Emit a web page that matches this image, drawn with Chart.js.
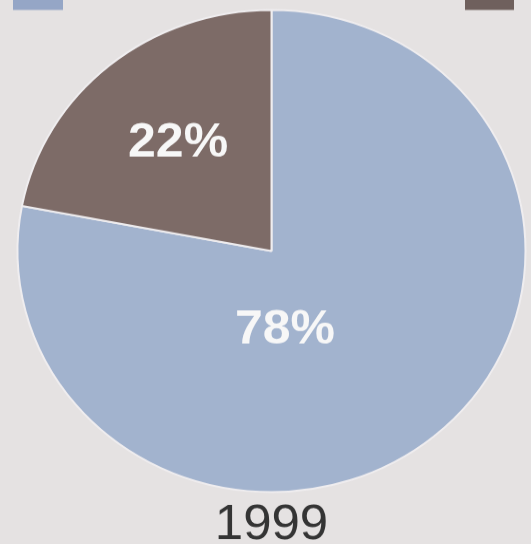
<!DOCTYPE html>
<html>
<head>
<meta charset="utf-8">
<script src="https://cdn.jsdelivr.net/npm/chart.js@4.4.1/dist/chart.umd.min.js"></script>
<style>
  html, body { margin: 0; padding: 0; background: #e5e2e2; overflow: hidden; width: 531px; height: 544px; }
  #wrap { width: 531px; height: 544px; overflow: hidden; position: relative; }
  #pie { position: absolute; left: 0; top: 0; transform: scaleY(0.949); transform-origin: 0 0; }
</style>
</head>
<body>
<div id="wrap"><canvas id="pie" width="531" height="580"></canvas></div>
<script>
// Share of respondents, 1999
const categories = ['Group A', 'Group B'];
const shares = [78, 22];
const sliceColors = ['#a2b3ce', '#7d6b67'];
const titleText = '1999';

// Percentage labels inside the slices; placement given as fraction of radius
// plus an angular shift (degrees) from the slice's mid-angle.
const labelPlacement = {
  plugin: {
    radiusFraction: [0.334, 0.577],
    angleShift: [30.5, 0]
  }
};

const sliceLabels = {
  id: 'sliceLabels',
  afterDatasetsDraw(chart, args, opts) {
    const ctx = chart.ctx;
    const meta = chart.getDatasetMeta(0);
    ctx.save();
    ctx.fillStyle = opts.color;
    ctx.font = opts.font;
    ctx.textAlign = 'center';
    ctx.textBaseline = 'middle';
    meta.data.forEach((arc, i) => {
      const p = arc.getProps(['x', 'y', 'startAngle', 'endAngle', 'outerRadius'], true);
      const mid = (p.startAngle + p.endAngle) / 2 + opts.angleShift[i] * Math.PI / 180;
      const d = p.outerRadius * opts.radiusFraction[i];
      ctx.fillText(shares[i] + '%', p.x + Math.cos(mid) * d, p.y + Math.sin(mid) * d);
    });
    ctx.restore();
  }
};

// Colour keys along the top edge (their captions fall outside the frame)
const topKeys = {
  id: 'topKeys',
  afterDraw(chart, args, opts) {
    const ctx = chart.ctx;
    ctx.save();
    opts.boxes.forEach((b, i) => {
      ctx.fillStyle = opts.colors[i];
      ctx.fillRect(b[0], -20, b[1], 20 + opts.bottom);
    });
    ctx.restore();
  }
};

new Chart(document.getElementById('pie'), {
  type: 'pie',
  data: {
    labels: categories,
    datasets: [{
      data: shares,
      backgroundColor: sliceColors,
      borderColor: '#efedef',
      borderWidth: 2
    }]
  },
  options: {
    responsive: false,
    animation: false,
    layout: { padding: { left: 16, right: 4, top: 9.5, bottom: 0 } },
    plugins: {
      legend: { display: false },
      tooltip: { enabled: false },
      title: {
        display: true,
        position: 'bottom',
        text: titleText,
        color: '#343434',
        font: { family: 'Liberation Sans, Arial, sans-serif', size: 51, weight: 'normal', lineHeight: 1 },
        padding: { top: 8.5, bottom: 1 }
      },
      sliceLabels: Object.assign({
        color: '#f7f7f7',
        font: 'bold 50px "Liberation Sans", Arial, sans-serif'
      }, labelPlacement.plugin),
      topKeys: {
        boxes: [[13, 50], [465, 49]],
        colors: ['#95a6c6', '#6f605d'],
        bottom: 10.5
      }
    }
  },
  plugins: [sliceLabels, topKeys]
});
</script>
</body>
</html>
